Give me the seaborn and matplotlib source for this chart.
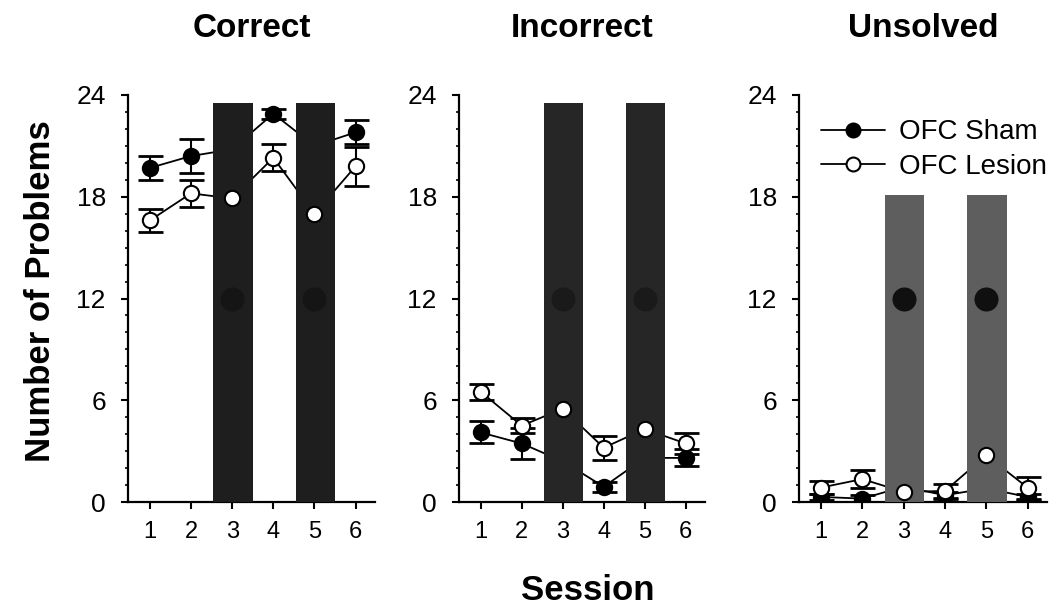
import pandas as pd
import matplotlib
matplotlib.use('Agg')
import matplotlib.pyplot as plt
from matplotlib.lines import Line2D
from matplotlib.ticker import MultipleLocator
import seaborn as sns

sns.set_theme(style='ticks')
plt.rcParams['font.family'] = ['Liberation Sans', 'DejaVu Sans']
plt.rcParams['text.color'] = 'black'
plt.rcParams['axes.labelcolor'] = 'black'

# data
sessions = [1, 2, 3, 4, 5, 6]
panel_titles = ['Correct', 'Incorrect', 'Unsolved']
group_names = ['OFC Sham', 'OFC Lesion']

correct_sham = [19.7, 20.4, 20.8, 22.9, 21.0, 21.8]
correct_sham_sem = [0.7, 1.0, 0.6, 0.3, 0.6, 0.7]
correct_lesion = [16.6, 18.2, 17.9, 20.3, 17.0, 19.8]
correct_lesion_sem = [0.65, 0.8, 0.6, 0.8, 0.6, 1.15]

incorrect_sham = [4.1, 3.45, 2.4, 0.9, 2.6, 2.6]
incorrect_sham_sem = [0.65, 0.9, 0.6, 0.3, 0.6, 0.5]
incorrect_lesion = [6.5, 4.5, 5.5, 3.2, 4.3, 3.45]
incorrect_lesion_sem = [0.48, 0.45, 0.5, 0.7, 0.5, 0.6]

unsolved_sham = [0.3, 0.2, 0.9, 0.4, 0.8, 0.3]
unsolved_sham_sem = [0.2, 0.2, 0.5, 0.2, 0.6, 0.2]
unsolved_lesion = [0.85, 1.35, 0.6, 0.65, 2.75, 0.85]
unsolved_lesion_sem = [0.4, 0.55, 0.4, 0.4, 0.6, 0.65]

# shaded sessions and how high the shading goes in each panel
shaded_sessions = [3, 5]
shade_top = [23.5, 23.5, 18.1]
shade_colors = ['#1e1e1e', '#262626', '#5e5e5e']
blob_colors = ['#151515', '#1a1a1a', '#101010']
blob_y = 12

series = {
    'Correct': (correct_sham, correct_sham_sem, correct_lesion, correct_lesion_sem),
    'Incorrect': (incorrect_sham, incorrect_sham_sem, incorrect_lesion, incorrect_lesion_sem),
    'Unsolved': (unsolved_sham, unsolved_sham_sem, unsolved_lesion, unsolved_lesion_sem),
}

rows = []
for title, (sh, sh_e, le, le_e) in series.items():
    for s, m, e in zip(sessions, sh, sh_e):
        rows.append((title, 'OFC Sham', s, m, e))
    for s, m, e in zip(sessions, le, le_e):
        rows.append((title, 'OFC Lesion', s, m, e))
df = pd.DataFrame(rows, columns=['panel', 'group', 'session', 'mean', 'sem'])

fig = plt.figure(figsize=(10.63, 6.13), dpi=100)
W, H = 1063, 613
lefts = [128, 459, 799]
widths = [247, 246, 248]
top_px, bottom_px = 95, 502
faces = {'OFC Sham': 'black', 'OFC Lesion': 'white'}

for i, title in enumerate(panel_titles):
    ax = fig.add_axes([lefts[i] / W, 1 - bottom_px / H, widths[i] / W, (bottom_px - top_px) / H])
    sub = df[df.panel == title]

    for grp in group_names:
        g = sub[sub.group == grp]
        ax.errorbar(g['session'], g['mean'], yerr=g['sem'], fmt='none', ecolor='black',
                    elinewidth=1.5, capsize=9, capthick=2, zorder=2)
        sns.lineplot(data=g, x='session', y='mean', color='black', marker='o', markersize=11,
                     markerfacecolor=faces[grp], markeredgecolor='black', markeredgewidth=1.5,
                     linewidth=1.3, errorbar=None, ax=ax, zorder=3, legend=False)

    # shaded sessions cover the data
    ax.bar([s + 0.02 for s in shaded_sessions], [shade_top[i]] * len(shaded_sessions),
           width=0.96, color=shade_colors[i], linewidth=0, zorder=4)
    ax.scatter(shaded_sessions, [blob_y] * len(shaded_sessions), s=300, color=blob_colors[i],
               linewidth=0, zorder=4.5)
    les = sub[(sub.group == 'OFC Lesion') & (sub.session.isin(shaded_sessions))]
    sns.scatterplot(data=les, x='session', y='mean', s=121, color='white', edgecolor='black',
                    linewidth=1.5, ax=ax, zorder=5, legend=False)

    ax.set_xlim(0.47, 6.47)
    ax.set_ylim(0, 24)
    ax.set_xticks(sessions)
    ax.set_yticks([0, 6, 12, 18, 24])
    ax.yaxis.set_minor_locator(MultipleLocator(1))
    ax.set_xlabel('')
    ax.set_ylabel('')
    sns.despine(ax=ax)
    for sp in ['left', 'bottom']:
        ax.spines[sp].set_linewidth(1.6)
        ax.spines[sp].set_color('black')
    ax.tick_params(axis='y', which='major', length=5, width=1.5, labelsize=19, pad=11, colors='black')
    ax.tick_params(axis='y', which='minor', length=2.5, width=1.2, colors='black')
    ax.tick_params(axis='x', which='major', length=5, width=1.5, labelsize=17, pad=9, colors='black')
    ax.grid(False)

    cx = (lefts[i] + widths[i] / 2) / W
    fig.text(cx, 0.953, title, ha='center', va='center', fontsize=24, fontweight='bold',
             family=['Liberation Sans Narrow', 'Liberation Sans'])

    if i == 2:
        handles = [Line2D([], [], color='black', marker='o', markersize=10, linewidth=1.3,
                          markerfacecolor=faces[g], markeredgecolor='black', markeredgewidth=1.5)
                   for g in group_names]
        ax.legend(handles, group_names, loc='upper left', bbox_to_anchor=(0.09, 0.94),
                  frameon=False, fontsize=20, handlelength=2.3, handletextpad=0.5,
                  labelspacing=0.3, borderpad=0, borderaxespad=0)

fig.text(0.038, 0.525, 'Number of Problems', rotation=90, ha='center', va='center',
         fontsize=25, fontweight='bold')
fig.text(0.553, 0.037, 'Session', ha='center', va='center', fontsize=25, fontweight='bold')

fig.savefig('out.png', dpi=100)
